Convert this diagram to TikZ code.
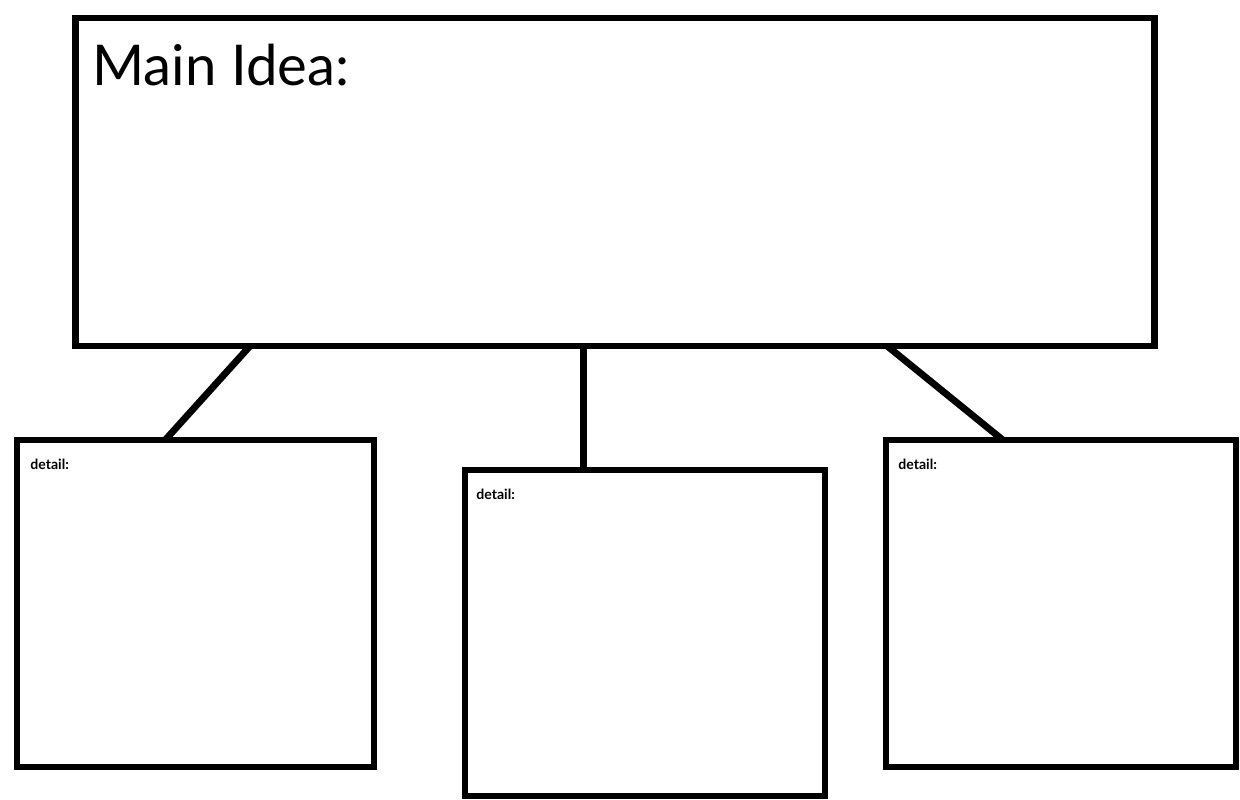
\documentclass[tikz,border=0pt]{standalone}
\usepackage{fontspec}
\setmainfont{Lato}
\usetikzlibrary{positioning, calc}
\tikzset{
	ideabox/.style={rectangle, draw=black, line width=3.9pt, fill=white,
		inner sep=0pt, outer sep=0pt},
	boxlabel/.style={anchor=north west, inner sep=0pt},
	link/.style={draw=black, line width=3.9pt}
}

\begin{document}
\begin{tikzpicture}[x=0.02cm, y=-0.02cm]
	\fill[white] (0,0) rectangle (1240,799);
	\useasboundingbox (0,0) rectangle (1240,799);
	% main idea and the three details
	\node[ideabox, minimum width=21.6cm, minimum height=6.56cm] (main) at (615,182) {};
	\node[ideabox, minimum width=7.14cm, minimum height=6.54cm] (detailL) at (195.5,603.5) {};
	\node[ideabox, minimum width=7.2cm, minimum height=6.52cm] (detailM) at (645,633) {};
	\node[ideabox, minimum width=7.0cm, minimum height=6.54cm] (detailR) at (1061,603.5) {};
	% texts
	\node[boxlabel, font=\fontsize{32}{36}\selectfont] (mainlbl) at ($(main.north west)+(17,26)$) {Main Idea:};
	\node[boxlabel, font=\fontsize{8}{9}\selectfont\bfseries] (lblL) at ($(detailL.north west)+(13,19)$) {detail:};
	\node[boxlabel, font=\fontsize{8}{9}\selectfont\bfseries] (lblM) at ($(detailM.north west)+(11,19)$) {detail:};
	\node[boxlabel, font=\fontsize{8}{9}\selectfont\bfseries] (lblR) at ($(detailR.north west)+(12,19)$) {detail:};
	% connectors
	\coordinate (topM) at ($(detailM.north west)!0.328!(detailM.north east)$);
	\draw[link] ($(main.south west)!0.162!(main.south east)$) -- ($(detailL.north west)!0.415!(detailL.north east)$);
	\draw[link] (topM |- main.south) -- (topM);
	\draw[link] ($(main.south west)!0.752!(main.south east)$) -- ($(detailR.north west)!0.334!(detailR.north east)$);
\end{tikzpicture}
\end{document}
